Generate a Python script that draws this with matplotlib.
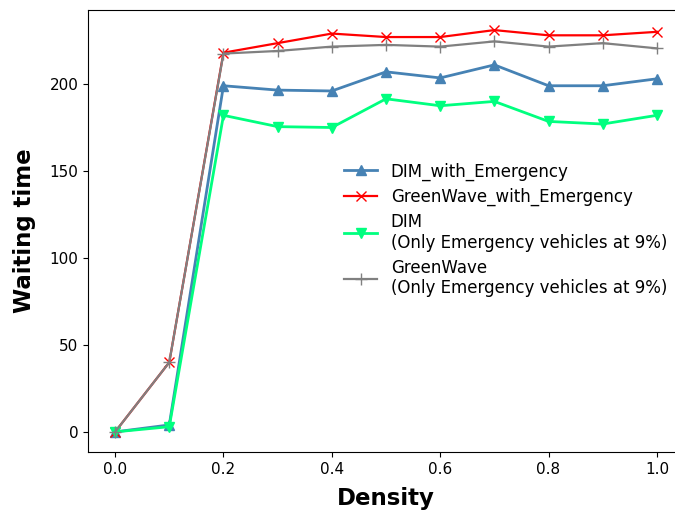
import numpy as np
import matplotlib
matplotlib.use('Agg')
import matplotlib.pyplot as plt

density = [0.0, 0.1, 0.2, 0.3, 0.4, 0.5, 0.6, 0.7, 0.8, 0.9, 1.0]

dim_emergency = [0, 4, 199, 196.5, 196, 207, 203.5, 211, 199, 199, 203]
greenwave_emergency = [0, 40, 218, 223.5, 229, 227, 227, 231, 228, 228, 230]
dim_only = [0, 3, 182, 175.5, 175, 191.5, 187.5, 190, 178.5, 177, 182]
greenwave_only = [0, 40, 217.5, 219, 221.5, 222.5, 221.5, 224.5, 221.5, 223.5, 220.5]

labels = ['DIM_with_Emergency',
          'GreenWave_with_Emergency',
          'DIM\n(Only Emergency vehicles at 9%)',
          'GreenWave\n(Only Emergency vehicles at 9%)']

fig = plt.figure(figsize=(6.75, 5.12), dpi=100)
ax = fig.add_axes([88/675, 1 - 452/512, 596/675, 442/512])

ax.plot(density, dim_emergency, color='steelblue', marker='^', markersize=7, linewidth=2, label=labels[0])
ax.plot(density, greenwave_emergency, color='red', marker='x', markersize=7, linewidth=1.6, label=labels[1])
ax.plot(density, dim_only, color='springgreen', marker='v', markersize=7, linewidth=2, label=labels[2])
ax.plot(density, greenwave_only, color='gray', marker='+', markersize=8, linewidth=1.6, label=labels[3])

ax.set_xticks([0.0, 0.2, 0.4, 0.6, 0.8, 1.0])
ax.tick_params(labelsize=11)
ax.set_xlabel('Density', fontsize=16.5, fontweight='bold', labelpad=7.5)
ax.set_ylabel('Waiting time', fontsize=16.5, fontweight='bold', labelpad=9.5)

ax.legend(frameon=False, loc='center left', bbox_to_anchor=(0.4874, 0.551),
          bbox_transform=fig.transFigure, fontsize=12, labelspacing=0.42)

fig.savefig('out.png', dpi=100)
